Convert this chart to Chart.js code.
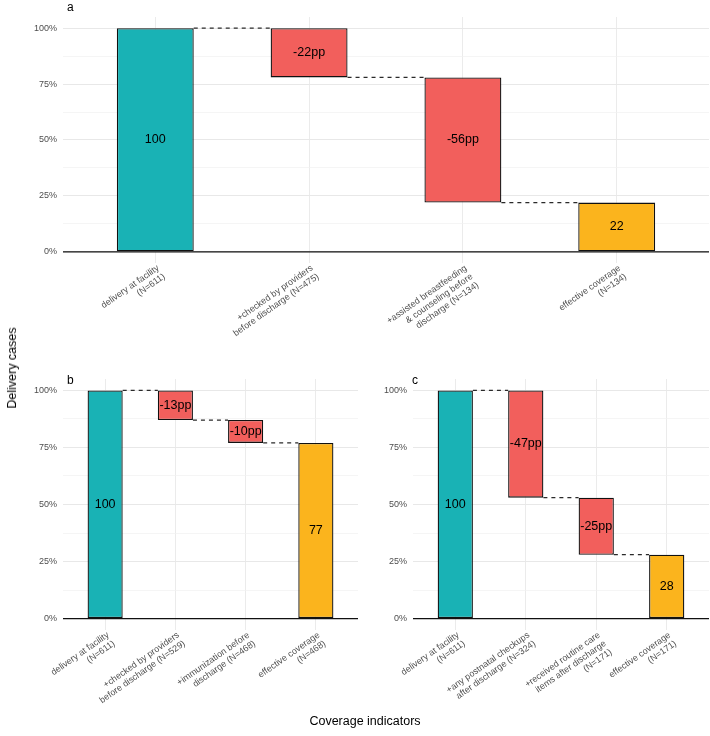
<!DOCTYPE html>
<html>
<head>
<meta charset="utf-8">
<script src="https://cdn.jsdelivr.net/npm/chart.js@4.4.1/dist/chart.umd.min.js"></script>
<style>
  body { margin: 0; background: #fff; font-family: "Liberation Sans", Arial, sans-serif; }
  #wrap { position: relative; width: 710px; height: 736px; overflow: hidden; }
  canvas { position: absolute; }
  .tag { position: absolute; font-size: 12px; color: #000; }
  .axtitle { position: absolute; font-size: 12.5px; color: #000; white-space: nowrap; }
</style>
</head>
<body>
<div id="wrap">
  <canvas id="chartA" width="710" height="360" style="left:0;top:0"></canvas>
  <canvas id="chartB" width="360" height="374" style="left:0;top:362px"></canvas>
  <canvas id="chartC" width="360" height="374" style="left:350px;top:362px"></canvas>
  <div class="tag" style="left:67px;top:0px">a</div>
  <div class="tag" style="left:67px;top:373px">b</div>
  <div class="tag" style="left:412px;top:373px">c</div>
  <div class="axtitle" style="left:12px;top:368px;transform:translate(-50%,-50%) rotate(-90deg)">Delivery cases</div>
  <div class="axtitle" style="left:365px;top:721px;transform:translate(-50%,-50%)">Coverage indicators</div>
</div>
<script>
// panel a
const labelsA = [
  ['delivery at facility', '(N=611)'],
  ['+checked by providers', 'before discharge (N=475)'],
  ['+assisted breastfeeding', '& counseling before', 'discharge (N=134)'],
  ['effective coverage', '(N=134)']
];
const stepsA = [100, -22, -56, 22];

// panel b
const labelsB = [
  ['delivery at facility', '(N=611)'],
  ['+checked by providers', 'before discharge (N=529)'],
  ['+immunization before', 'discharge (N=468)'],
  ['effective coverage', '(N=468)']
];
const stepsB = [100, -13, -10, 77];

// panel c
const labelsC = [
  ['delivery at facility', '(N=611)'],
  ['+any postnatal checkups', 'after discharge (N=324)'],
  ['+received routine care', 'items after discharge', '(N=171)'],
  ['effective coverage', '(N=171)']
];
const stepsC = [100, -47, -25, 28];

const yTicks = [0, 12.5, 25, 37.5, 50, 62.5, 75, 87.5, 100];

const TEAL = '#19B2B5';
const RED = '#F25F5C';
const AMBER = '#FBB41D';
const FONT = '"Liberation Sans", Arial, sans-serif';

// text in the middle of each bar + zero line
const barText = {
  id: 'barText',
  afterDatasetsDraw(chart) {
    const ctx = chart.ctx;
    const area = chart.chartArea;
    const y0 = chart.scales.y.getPixelForValue(0);
    ctx.save();
    ctx.strokeStyle = '#111';
    ctx.lineWidth = 1.2;
    ctx.beginPath();
    ctx.moveTo(area.left, y0);
    ctx.lineTo(area.right, y0);
    ctx.stroke();
    const meta = chart.getDatasetMeta(0);
    const texts = chart.options.plugins.barText.texts;
    ctx.fillStyle = '#000';
    ctx.font = '12.5px ' + FONT;
    ctx.textAlign = 'center';
    ctx.textBaseline = 'middle';
    meta.data.forEach((el, i) => {
      ctx.fillText(texts[i], el.x, (el.y + el.base) / 2);
    });
    ctx.restore();
  }
};

function makePanel(id, labels, steps, padRight, xHeight) {
  const bars = [];
  const links = [];
  const texts = [];
  let level = 0;
  steps.forEach((s, i) => {
    const x = i + 1;
    if (i === 0) {
      level = s;
      bars.push({ x: x, y: [0, s] });
      texts.push(String(s));
    } else if (i === steps.length - 1) {
      bars.push({ x: x, y: [0, s] });
      texts.push(String(s));
    } else {
      bars.push({ x: x, y: [level + s, level] });
      texts.push(s + 'pp');
      level = level + s;
    }
  });
  // dashed connectors between neighbouring bars
  let lv = 0;
  steps.forEach((s, i) => {
    if (i === steps.length - 1) return;
    lv = i === 0 ? s : lv + s;
    links.push({ x: i + 1.25, y: lv });
    links.push({ x: i + 1.75, y: lv });
    links.push({ x: i + 1.8, y: null });
  });
  const colors = steps.map((s, i) => i === 0 ? TEAL : (i === steps.length - 1 ? AMBER : RED));

  return new Chart(document.getElementById(id), {
    data: {
      datasets: [
        {
          type: 'bar',
          data: bars,
          backgroundColor: colors,
          borderColor: '#111',
          borderWidth: 1.3,
          borderSkipped: false,
          barPercentage: 0.5,
          categoryPercentage: 1,
          order: 2
        },
        {
          type: 'line',
          data: links,
          borderColor: '#2a2a2a',
          borderWidth: 1.2,
          borderDash: [4, 4],
          pointRadius: 0,
          spanGaps: false,
          order: 1
        }
      ]
    },
    options: {
      responsive: false,
      animation: false,
      devicePixelRatio: 1,
      layout: { padding: { top: 17, left: 0, right: padRight, bottom: 0 } },
      plugins: {
        legend: { display: false },
        tooltip: { enabled: false },
        barText: { texts: texts }
      },
      scales: {
        x: {
          type: 'linear',
          min: 0.4,
          max: 4.6,
          offset: false,
          bounds: 'data',
          afterBuildTicks: (scale) => { scale.ticks = [1, 2, 3, 4].map(v => ({ value: v })); },
          afterFit: (scale) => { scale.height = xHeight; scale.paddingLeft = 0; scale.paddingRight = 0; },
          border: { display: false },
          grid: { color: '#EBEBEB', lineWidth: 1, drawTicks: false, offset: false },
          ticks: {
            autoSkip: false,
            minRotation: 35,
            maxRotation: 35,
            padding: 0,
            labelOffset: 3,
            color: '#4D4D4D',
            font: { family: FONT, size: 9, lineHeight: 1.15 },
            callback: (v) => labels[Math.round(v) - 1]
          }
        },
        y: {
          min: -5,
          max: 105,
          afterBuildTicks: (scale) => { scale.ticks = yTicks.map(v => ({ value: v })); },
          afterFit: (scale) => { scale.width = 63; scale.paddingTop = 0; scale.paddingBottom = 0; },
          border: { display: false },
          grid: {
            drawTicks: false,
            color: (c) => (c.tick && c.tick.value % 25 === 0) ? '#E8E8E8' : '#F0F0F0',
            lineWidth: (c) => (c.tick && c.tick.value % 25 === 0) ? 1.1 : 0.7
          },
          ticks: {
            padding: 6,
            color: '#4D4D4D',
            font: { family: FONT, size: 9 },
            callback: (v) => v % 25 === 0 ? v + '%' : ''
          }
        }
      }
    },
    plugins: [barText]
  });
}

makePanel('chartA', labelsA, stepsA, 1, 97);
makePanel('chartB', labelsB, stepsB, 2, 106);
makePanel('chartC', labelsC, stepsC, 1, 106);
</script>
</body>
</html>
